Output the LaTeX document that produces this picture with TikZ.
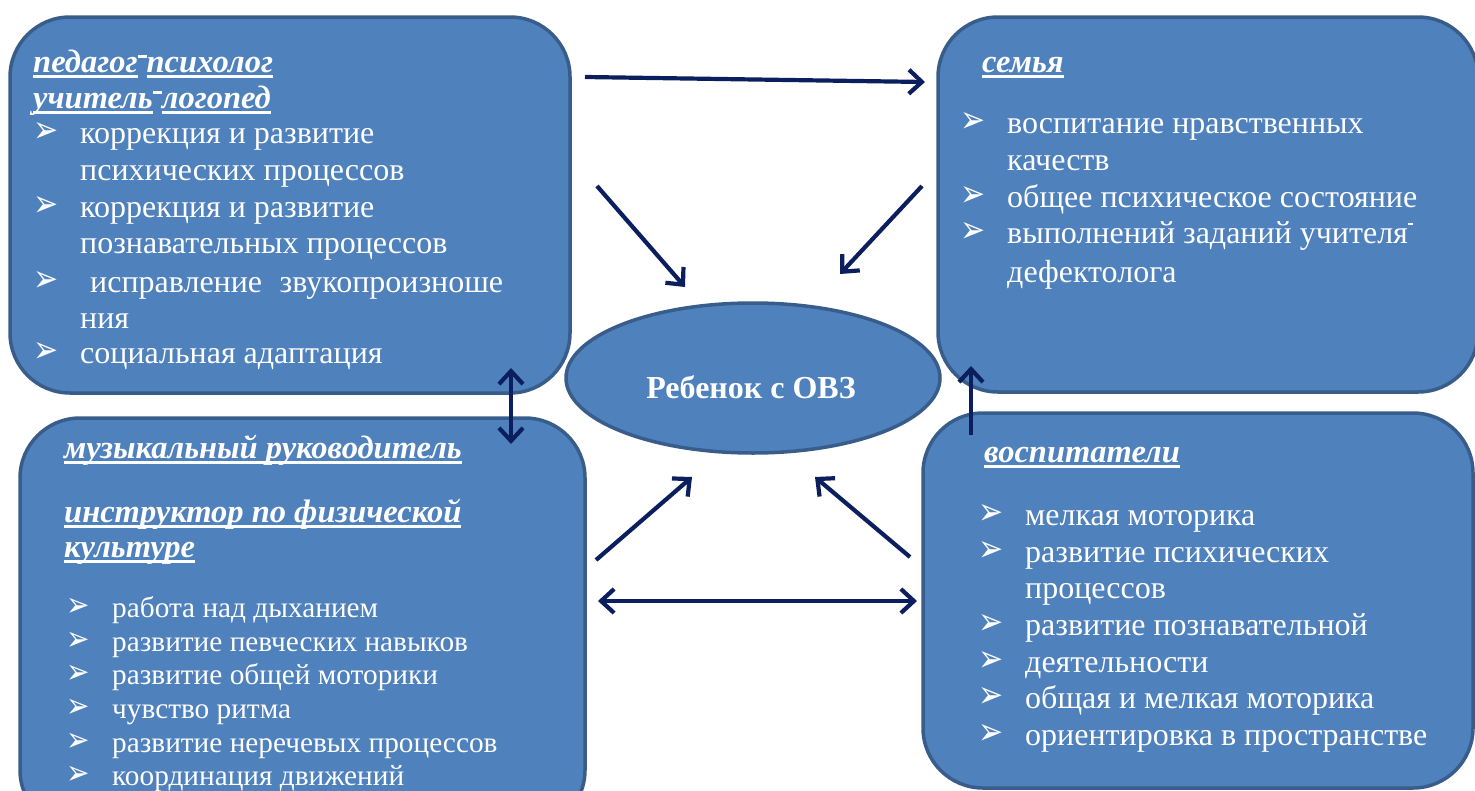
\documentclass[tikz,border=0pt]{standalone}
\usepackage{fontspec}
\setmainfont{Liberation Serif}
\newfontfamily\symfont{DejaVu Sans}
\usetikzlibrary{arrows.meta,shapes.geometric}
\definecolor{boxfill}{HTML}{4F81BD}
\definecolor{boxline}{HTML}{385D8A}
\definecolor{arrowc}{HTML}{0B1F5E}
\newcommand{\myul}[1]{\sbox0{#1}\rlap{\rule[-0.17em]{\wd0}{0.08em}}\usebox0}
\newcommand{\hdash}{\rule[0.42em]{0.28em}{0.1em}}
\newcommand{\sdash}{\rule[0.55em]{0.16em}{0.06em}}
\newcommand{\bul}{\smash{\raisebox{-1pt}{\scalebox{1}[1.25]{\symfont\fontsize{30}{30}\selectfont ➢}}}}
\newcommand{\sbul}{\smash{\raisebox{-1pt}{\scalebox{1}[1.22]{\symfont\fontsize{28}{28}\selectfont ➢}}}}
\begin{document}
\begin{tikzpicture}[x=1pt,y=-1pt,
  rbox/.style={draw=boxline, line width=3.5pt, fill=boxfill, rounded corners=60pt, inner sep=0pt},
  ell/.style={draw=boxline, line width=3.5pt, fill=boxfill, ellipse, inner sep=0pt},
  txt/.style={anchor=base west, text=white, inner sep=0pt, font=\fontsize{32}{36}\selectfont},
  stxt/.style={txt, font=\fontsize{29.3}{33}\selectfont},
  ttl/.style={txt, font=\fontsize{32.5}{36}\selectfont\bfseries\itshape},
  bl/.style={anchor=base west, text=white, inner sep=0pt},
  arr/.style={draw=arrowc, line width=4.2pt, -{Straight Barb[length=13pt,width=24pt]}},
  darr/.style={draw=arrowc, line width=4.2pt, {Straight Barb[length=13pt,width=24pt]}-{Straight Barb[length=13pt,width=24pt]}}
]
\useasboundingbox (0,0) rectangle (1475,790);
\clip (0,0) rectangle (1475,790);

% boxes
\node[rbox, minimum width=560pt, minimum height=376pt] (tl) at (290,205) {};
\node[rbox, minimum width=540pt, minimum height=375pt] (tr) at (1208,204.5) {};
\node[rbox, minimum width=565pt, minimum height=412pt] (bl) at (302.5,624) {};
\node[rbox, minimum width=550pt, minimum height=375pt] (br) at (1198,600.5) {};
\node[ell, minimum width=374pt, minimum height=150pt] (child) at (753,378) {};
\node[anchor=base, text=white, inner sep=0pt, font=\fontsize{32}{36}\selectfont\bfseries] (childt) at (751,398) {Ребенок с ОВЗ};

% top-left text
\node[ttl] (tlh1) at (33,72) {\myul{педагог}\hdash\myul{психолог}};
\node[ttl] (tlh2) at (33,108) {\myul{учитель}\hdash\myul{логопед}};
\node[bl] (tlb1) at (33,141) {\bul};
\node[txt] (tl1) at (80,143) {коррекция и развитие};
\node[txt] (tl2) at (80,180) {психических процессов};
\node[bl] (tlb2) at (33,215) {\bul};
\node[txt] (tl3) at (80,217) {коррекция и развитие};
\node[txt] (tl4) at (80,253) {познавательных процессов};
\node[bl] (tlb3) at (33,290) {\bul};
\node[txt] (tl5) at (90,292) {исправление\hspace{0.3em} звукопроизноше};
\node[txt] (tl6) at (80,328) {ния};
\node[bl] (tlb4) at (33,361) {\bul};
\node[txt] (tl7) at (80,363) {социальная адаптация};

% top-right text
\node[ttl] (trh) at (982,72) {\myul{семья}};
\node[bl] (trb1) at (960,131) {\bul};
\node[txt] (tr1) at (1007,133) {воспитание нравственных};
\node[txt] (tr2) at (1007,170) {качеств};
\node[bl] (trb2) at (960,205) {\bul};
\node[txt] (tr3) at (1007,207) {общее психическое состояние};
\node[bl] (trb3) at (960,241) {\bul};
\node[txt] (tr4) at (1007,243) {выполнений заданий учителя\sdash};
\node[txt] (tr5) at (1007,282) {дефектолога};

% bottom-left text
\node[ttl] (blh1) at (64,458) {\myul{музыкальный руководитель}};
\node[ttl] (blh2) at (64,522) {\myul{инструктор по физической}};
\node[ttl] (blh3) at (64,557) {\myul{культуре}};
\node[bl] (blb1) at (66,615) {\sbul};
\node[stxt] (bl1) at (112,617) {работа над дыханием};
\node[bl] (blb2) at (66,649) {\sbul};
\node[stxt] (bl2) at (112,651) {развитие певческих навыков};
\node[bl] (blb3) at (66,682) {\sbul};
\node[stxt] (bl3) at (112,684) {развитие общей моторики};
\node[bl] (blb4) at (66,716) {\sbul};
\node[stxt] (bl4) at (112,718) {чувство ритма};
\node[bl] (blb5) at (66,750) {\sbul};
\node[stxt] (bl5) at (112,752) {развитие неречевых процессов};
\node[bl] (blb6) at (66,783) {\sbul};
\node[stxt] (bl6) at (112,785) {координация движений};

% bottom-right text
\node[ttl] (brh) at (984,462) {\myul{воспитатели}};
\node[bl] (brb1) at (978,523) {\bul};
\node[txt] (br1) at (1025,525) {мелкая моторика};
\node[bl] (brb2) at (978,560) {\bul};
\node[txt] (br2) at (1025,562) {развитие психических};
\node[txt] (br3) at (1025,598) {процессов};
\node[bl] (brb3) at (978,633) {\bul};
\node[txt] (br4) at (1025,635) {развитие познавательной};
\node[bl] (brb4) at (978,670) {\bul};
\node[txt] (br5) at (1025,672) {деятельности};
\node[bl] (brb5) at (978,706) {\bul};
\node[txt] (br6) at (1025,708) {общая и мелкая моторика};
\node[bl] (brb6) at (978,743) {\bul};
\node[txt] (br7) at (1025,745) {ориентировка в пространстве};

% arrow endpoints
\coordinate (a1s) at (585,77);   \coordinate (a1e) at (925,82);
\coordinate (a2s) at (597,186);  \coordinate (a2e) at (685,287);
\coordinate (a3s) at (922,186);  \coordinate (a3e) at (840,274);
\coordinate (a4s) at (511,368);  \coordinate (a4e) at (511,444);
\coordinate (a5s) at (596,560);  \coordinate (a5e) at (692,477);
\coordinate (a6s) at (910,557);  \coordinate (a6e) at (815,477);
\coordinate (a7s) at (598,601);  \coordinate (a7e) at (917,601);
\coordinate (a8s) at (971,435);  \coordinate (a8e) at (971,366);

\draw[arr] (a1s) -- (a1e);
\draw[arr] (a2s) -- (a2e);
\draw[arr] (a3s) -- (a3e);
\draw[darr] (a4s) -- (a4e);
\draw[arr] (a5s) -- (a5e);
\draw[arr] (a6s) -- (a6e);
\draw[darr] (a7s) -- (a7e);
\draw[arr] (a8s) -- (a8e);
\end{tikzpicture}
\end{document}
